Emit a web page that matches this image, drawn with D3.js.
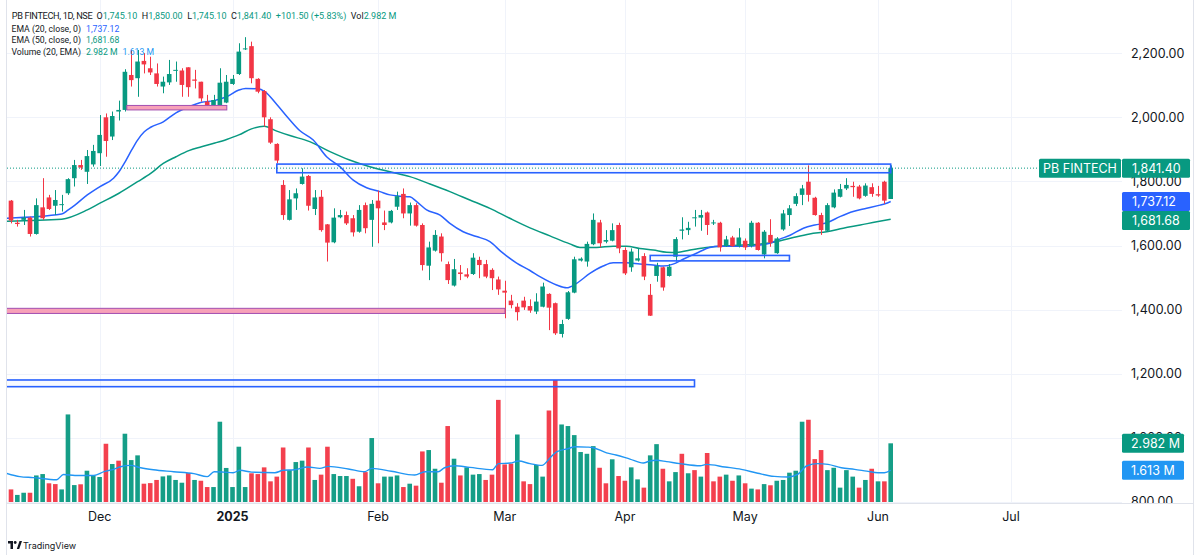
<!DOCTYPE html>
<html><head><meta charset="utf-8">
<script src="https://cdn.jsdelivr.net/npm/d3@7/dist/d3.min.js"></script>
<style>
html,body{margin:0;padding:0;background:#fff;}
svg{display:block;font-family:Inter,"Noto Sans",sans-serif;}
</style></head><body>
<svg id="c" width="1200" height="555"></svg>
<script>
// ---------- DATA ----------
const opens=[1668,1740,1671,1680,1687,1636,1719,1750,1724,1726,1763,1810,1851,1830,1853,1888,2000,1940,2018,2023,2132,2122,2176,2153,2137,2096,2109,2145,2146,2156,2118,2111,2049,2038,2038,2046,2104,2135,2212,2222,2120,2082,1994,1917,1789,1680,1747,1792,1817,1714,1752,1666,1610,1688,1695,1685,1643,1726,1680,1740,1672,1672,1721,1761,1700,1726,1664,1537,1584,1628,1542,1475,1516,1510,1511,1555,1542,1524,1494,1459,1428,1409,1428,1411,1394,1409,1449,1420,1324,1371,1453,1553,1550,1604,1672,1612,1615,1664,1586,1532,1553,1567,1446,1505,1532,1505,1565,1646,1648,1685,1687,1703,1669,1671,1598,1625,1598,1615,1598,1671,1572,1633,1576,1650,1695,1730,1758,1799,1749,1695,1646,1719,1752,1778,1786,1784,1755,1782,1760,1799,1745.1];
const highs=[1712,1742,1680,1711,1690,1747,1810,1758,1773,1758,1810,1867,1867,1898,1914,2007,2012,2018,2052,2150,2210,2210,2200,2189,2168,2127,2179,2174,2153,2156,2148,2111,2070,2070,2153,2132,2132,2231,2250,2236,2122,2085,2000,1919,1804,1773,1778,1841,1820,1773,1773,1667,1716,1711,1706,1695,1726,1734,1742,1771,1709,1711,1768,1778,1734,1732,1669,1612,1648,1638,1550,1558,1539,1529,1576,1565,1555,1529,1503,1490,1446,1420,1440,1432,1451,1484,1451,1422,1368,1458,1565,1563,1612,1700,1680,1648,1669,1671,1594,1591,1591,1576,1480,1546,1534,1542,1626,1688,1674,1711,1711,1706,1680,1674,1630,1630,1654,1622,1677,1673,1648,1682,1626,1711,1726,1763,1789,1850,1752,1702,1732,1775,1792,1810,1799,1789,1794,1794,1786,1802,1850];
const lows=[1660,1669,1659,1664,1628,1634,1680,1711,1695,1706,1758,1784,1836,1792,1846,1848,1877,1929,1990,2018,2096,2064,2137,2132,2096,2075,2101,2111,2064,2064,2090,2049,2023,2033,2033,2044,2101,2132,2210,2106,2075,1971,1917,1856,1680,1678,1711,1790,1709,1695,1643,1550,1607,1685,1664,1628,1640,1638,1596,1607,1648,1669,1711,1685,1662,1659,1522,1492,1581,1550,1480,1472,1492,1498,1508,1498,1498,1461,1446,1373,1404,1366,1399,1390,1386,1407,1336,1321,1313,1368,1451,1550,1534,1601,1594,1607,1613,1576,1508,1518,1550,1492,1380,1487,1459,1503,1550,1619,1633,1659,1646,1633,1664,1581,1596,1596,1594,1586,1594,1584,1560,1596,1574,1646,1661,1723,1726,1737,1693,1633,1643,1716,1750,1773,1752,1744,1752,1752,1752,1730,1745.1];
const closes=[1700,1678,1667,1687,1636,1726,1685,1714,1742,1729,1807,1851,1843,1879,1895,1945,1926,2004,2023,2142,2116,2174,2165,2140,2104,2111,2135,2148,2101,2094,2114,2059,2038,2054,2108,2111,2120,2205,2215,2122,2080,2000,1921,1865,1695,1744,1763,1815,1724,1750,1648,1609,1687,1695,1669,1641,1711,1654,1730,1716,1664,1708,1754,1700,1726,1662,1539,1594,1633,1576,1492,1526,1511,1503,1562,1539,1503,1498,1463,1453,1414,1392,1407,1397,1425,1472,1406,1326,1355,1454,1557,1559,1605,1680,1607,1617,1648,1591,1513,1581,1560,1503,1381,1536,1469,1534,1620,1650,1655,1688,1695,1664,1672,1594,1619,1598,1625,1594,1671,1586,1643,1609,1622,1700,1716,1754,1778,1758,1695,1648,1726,1765,1776,1789,1782,1747,1787,1761,1756,1739.9,1841.4];
const volumes=[2.45,0.64,0.36,0.47,0.47,1.35,1.42,0.95,0.91,0.64,4.45,0.86,0.90,1.59,1.35,1.27,2.96,1.93,2.10,3.47,2.13,2.37,0.93,0.96,1.12,1.30,1.35,1.12,0.98,1.47,1.12,1.08,0.76,0.76,4.08,1.73,0.76,2.81,0.76,1.46,1.42,1.76,1.05,1.29,2.77,1.62,2.03,2.10,2.77,1.12,1.39,2.81,1.42,1.32,1.32,1.18,0.80,1.52,3.25,0.95,1.29,1.29,1.35,0.76,0.93,0.83,2.57,2.64,1.69,0.98,3.86,2.20,1.35,1.76,1.39,1.42,1.12,1.39,5.19,1.91,1.95,3.43,1.05,0.91,1.88,1.29,4.65,6.20,3.94,3.86,3.40,2.54,2.45,2.84,1.74,0.95,2.17,1.32,1.08,1.76,1.15,0.73,2.37,2.94,1.69,1.05,1.52,2.45,1.46,1.62,1.29,2.49,1.05,1.29,1.39,1.08,1.35,0.95,0.68,0.64,0.91,0.85,1.08,1.12,1.49,1.59,4.08,4.18,2.18,2.64,1.62,1.74,0.73,1.62,1.29,0.73,1.12,1.69,1.05,1.05,2.982];
const volUp=[1,0,1,1,0,1,1,0,0,1,1,1,0,1,1,1,0,1,0,1,1,1,0,0,0,1,1,1,1,0,1,0,0,1,1,1,1,1,1,0,0,0,0,0,0,1,1,1,0,1,0,0,1,1,1,0,1,0,1,0,1,1,1,0,1,0,0,1,1,0,0,1,0,1,1,1,0,0,0,0,0,1,0,0,1,1,0,0,1,1,1,1,1,1,0,0,1,0,0,1,1,0,1,1,0,1,1,0,1,0,1,0,0,0,1,0,1,0,1,0,1,0,1,1,1,1,1,0,0,0,1,1,1,1,1,0,1,0,1,0,1];
const ema20Pts=[[0.32,1685],[9,1698],[10.05,1711],[11.1,1726],[13.06,1758],[15.06,1784],[17.2,1810],[18.06,1830],[19.06,1862],[20.07,1898],[21,1929],[22.06,1955],[23.07,1969],[25.06,1986],[27.07,2014],[29.1,2033],[31.1,2047],[33.07,2052],[35.07,2064],[37,2085],[38.07,2090],[40.07,2089],[41.1,2080],[43,2040],[44.8,1998],[46.66,1958],[48.76,1929],[50.87,1877],[52.97,1846],[55.08,1804],[57.19,1780],[59.3,1768],[60.87,1758],[62.45,1754],[64.03,1752],[65.1,1737],[66.67,1711],[68.8,1695],[70.35,1669],[72.45,1643],[74.56,1628],[76.67,1612],[78.5,1580],[80.9,1545],[83,1522],[84.57,1503],[87.2,1477],[88.8,1468],[90.37,1482],[92.47,1513],[94.57,1536],[96.15,1546],[98.26,1546],[100.37,1542],[102.47,1539],[104.05,1536],[105.6,1542],[107.2,1557],[109.3,1576],[111.4,1594],[113,1598],[115.1,1598],[117.2,1598],[119.3,1601],[120.9,1607],[122.5,1620],[124.1,1632],[126.2,1654],[128,1664],[129.9,1671],[131.97,1690],[134.07,1706],[136.2,1716],[138.3,1726],[139.1,1730],[140,1737.12]];
const ema50Pts=[[0.32,1676],[9,1682],[13.06,1711],[15.06,1732],[18.06,1763],[21,1799],[23.07,1825],[25.06,1856],[27.07,1877],[29.1,1896],[31.1,1908],[33.07,1919],[35.07,1931],[37,1945],[39,1964],[41,1972],[43,1957],[45.06,1943],[48.2,1924],[51.4,1893],[54.5,1867],[57.7,1846],[60.87,1830],[64.03,1815],[67.2,1792],[70.35,1768],[73.5,1742],[76.67,1716],[79.8,1685],[83,1655],[86.15,1630],[89.3,1605],[90.9,1594],[93.5,1594],[96.15,1598],[98.26,1598],[100.37,1591],[102.47,1586],[104.6,1579],[106.2,1578],[108.3,1586],[110.9,1594],[113,1598],[115.1,1600],[117.2,1602],[119.5,1605],[121.9,1612],[124.6,1625],[127.2,1636],[129.9,1643],[132.5,1654],[135.2,1664],[137.8,1674],[140,1681.68]];
const volMaPts=[[0.3,1.46],[2.4,1.29],[4.5,1.24],[8.2,1.13],[9.3,1.40],[11.1,1.35],[14.1,1.35],[15.7,1.54],[17.2,1.66],[18.3,1.79],[19.9,1.86],[21.5,1.74],[23.5,1.64],[26.7,1.54],[29.9,1.44],[32,1.29],[33.1,1.54],[34.6,1.52],[36.1,1.49],[37.2,1.61],[39,1.52],[42.7,1.49],[44,1.61],[45.8,1.64],[47.9,1.78],[49.8,1.71],[51.1,1.81],[54.3,1.68],[56.9,1.54],[58,1.71],[61.1,1.56],[64.8,1.37],[66.4,1.54],[68.5,1.54],[69.5,1.74],[71.1,1.84],[73.5,1.76],[77.1,1.64],[78,1.95],[79.9,1.98],[81.2,2.08],[83,1.95],[84.9,1.86],[86.2,2.25],[87.2,2.55],[89.1,2.72],[90.1,2.81],[92,2.79],[93,2.76],[95.1,2.5],[96.6,2.39],[98.8,2.18],[100.9,1.98],[101.9,2.08],[103,2.12],[104.6,2.05],[106.7,1.95],[109.9,1.84],[110.9,1.91],[113.8,1.78],[116.4,1.66],[119,1.46],[121.6,1.3],[123.8,1.27],[125.3,1.4],[126.7,1.83],[128.5,1.95],[130.1,1.91],[132.2,1.74],[134.3,1.66],[136.2,1.57],[138,1.49],[139,1.49],[140,1.613]];
const priceTicks=[2200,2000,1800,1600,1400,1200,1000,800];
const monthLabels=["Dec","2025","Feb","Mar","Apr","May","Jun","Jul"];
const monthIdx=[15,36,59,79,98,117,138,159];
// drawings: [startIdx, endIdx, lowPrice, highPrice]
const pinkZones=[[19.3,35.1,2023,2037],[-3,79.05,1388,1404]];
const blueZones=[[43,140,1827,1854],[102,124,1552,1569],[-3,109,1159.5,1180.4]];
const lastClose=1841.40, ema20Last=1737.12, ema50Last=1681.68, volLast=2.982, volMaLast=1.613;

// ---------- LAYOUT ----------
const svg=d3.select("#c");
const paneL=7,paneR=1122,paneB=503,axisR=1193;
const UP="#089981",DN="#f23645",BLUE="#2962ff",VBLUE="#2196f3",TXT="#131722";
const x=d3.scaleLinear().domain([1,140]).range([11,890.7]);
const y=d3.scaleLinear().domain([800,2200]).range([501.9,53.2]);
const yv=d3.scaleLinear().domain([0,6.2]).range([502,380]);
const bw=4.6;

svg.append("rect").attr("width",1200).attr("height",555).attr("fill","#fff");
const defs=svg.append("defs");
defs.append("clipPath").attr("id","pane").append("rect").attr("x",paneL).attr("y",0).attr("width",paneR-paneL).attr("height",paneB);

// grid
const grid=svg.append("g").attr("clip-path","url(#pane)");
grid.selectAll(".hg").data(priceTicks).join("line")
  .attr("x1",paneL).attr("x2",paneR).attr("y1",d=>Math.round(y(d))+0.5).attr("y2",d=>Math.round(y(d))+0.5)
  .attr("stroke","#f0f3fa").attr("stroke-width",1);
grid.selectAll(".vg").data(monthIdx).join("line")
  .attr("x1",d=>Math.round(x(d))+0.5).attr("x2",d=>Math.round(x(d))+0.5).attr("y1",0).attr("y2",paneB)
  .attr("stroke","#f0f3fa").attr("stroke-width",1);

const pane=svg.append("g").attr("clip-path","url(#pane)");
const idx=d3.range(opens.length);

// volume bars
pane.append("g").selectAll("rect").data(idx).join("rect")
  .attr("x",i=>x(i)-bw/2).attr("width",bw)
  .attr("y",i=>yv(volumes[i])).attr("height",i=>yv(0)-yv(volumes[i]))
  .attr("fill",i=>volUp[i]?UP:DN).attr("opacity",0.95);

// volume MA
pane.append("path").datum(volMaPts)
  .attr("d",d3.line().x(d=>x(d[0])).y(d=>yv(d[1])).curve(d3.curveMonotoneX))
  .attr("fill","none").attr("stroke",VBLUE).attr("stroke-width",1.4);

// price line (dotted)
svg.append("line").attr("x1",paneL).attr("x2",1039).attr("y1",y(lastClose)).attr("y2",y(lastClose))
  .attr("stroke",UP).attr("stroke-width",1).attr("stroke-dasharray","1,2");

// EMAs
pane.append("path").datum(ema50Pts)
  .attr("d",d3.line().x(d=>x(d[0])).y(d=>y(d[1])).curve(d3.curveMonotoneX))
  .attr("fill","none").attr("stroke",UP).attr("stroke-width",1.5);
pane.append("path").datum(ema20Pts)
  .attr("d",d3.line().x(d=>x(d[0])).y(d=>y(d[1])).curve(d3.curveMonotoneX))
  .attr("fill","none").attr("stroke",BLUE).attr("stroke-width",1.5);

// candles
const cg=pane.append("g");
cg.selectAll("line").data(idx).join("line")
  .attr("x1",i=>Math.round(x(i))+0.5).attr("x2",i=>Math.round(x(i))+0.5)
  .attr("y1",i=>y(highs[i])).attr("y2",i=>y(lows[i]))
  .attr("stroke",i=>closes[i]>=opens[i]?UP:DN).attr("stroke-width",1);
cg.selectAll("rect").data(idx).join("rect")
  .attr("x",i=>x(i)-bw/2).attr("width",bw)
  .attr("y",i=>y(Math.max(opens[i],closes[i])))
  .attr("height",i=>Math.max(1,Math.abs(y(opens[i])-y(closes[i]))))
  .attr("fill",i=>closes[i]>=opens[i]?UP:DN);

// drawings
pane.selectAll(".pz").data(pinkZones).join("rect")
  .attr("x",d=>x(d[0])).attr("width",d=>x(d[1])-x(d[0]))
  .attr("y",d=>y(d[3])).attr("height",d=>y(d[2])-y(d[3]))
  .attr("fill","#f7a1b8").attr("stroke","#a24fb0").attr("stroke-width",1);
pane.selectAll(".bz").data(blueZones).join("rect")
  .attr("x",d=>x(d[0])).attr("width",d=>x(d[1])-x(d[0]))
  .attr("y",d=>y(d[3])).attr("height",d=>y(d[2])-y(d[3]))
  .attr("fill","rgba(41,98,255,0.03)").attr("stroke",BLUE).attr("stroke-width",1.6);

// frame lines
svg.append("line").attr("x1",paneL-0.5).attr("x2",paneL-0.5).attr("y1",0).attr("y2",555).attr("stroke","#e0e3eb");
svg.append("line").attr("x1",axisR+0.5).attr("x2",axisR+0.5).attr("y1",0).attr("y2",555).attr("stroke","#e0e3eb");
svg.append("line").attr("x1",paneL).attr("x2",axisR).attr("y1",paneB+0.5).attr("y2",paneB+0.5).attr("stroke","#e0e3eb");

// price axis labels
const ax=svg.append("g");
defs.append("clipPath").attr("id","axis").append("rect").attr("x",paneR).attr("y",0).attr("width",80).attr("height",paneB);
ax.append("g").attr("clip-path","url(#axis)").selectAll("text").data(priceTicks).join("text")
  .attr("x",1131).attr("y",d=>y(d)).attr("dy","0.36em")
  .attr("font-size",12.5).attr("fill",TXT).text(d=>d3.format(",.2f")(d));

// time axis labels
svg.append("g").selectAll("text").data(monthIdx).join("text")
  .attr("x",d=>x(d)).attr("y",521).attr("text-anchor","middle")
  .attr("font-size",12.5).attr("fill",TXT)
  .attr("font-weight",(d,i)=>monthLabels[i]==="2025"?"700":"400")
  .text((d,i)=>monthLabels[i]);

// value labels on axis
function box(x0,w,yc,fill,text,tx,anchor){
  const g=svg.append("g");
  g.append("rect").attr("x",x0).attr("y",yc-9.5).attr("width",w).attr("height",19).attr("rx",1.5).attr("fill",fill);
  g.append("text").attr("x",tx).attr("y",yc).attr("dy","0.36em").attr("font-size",12.5)
    .attr("fill","#fff").attr("text-anchor",anchor||"start").text(text);
}
const fmt=d3.format(",.2f");
const yc1=y(lastClose), yc2=y(ema20Last);
let yc3=y(ema50Last); if(yc3-yc2<19) yc3=yc2+19;
box(1039,82,yc1,UP,"PB FINTECH",1080,"middle");
box(1122,68,yc1,UP,fmt(lastClose),1132);
box(1122,68,yc2,BLUE,fmt(ema20Last),1132);
box(1122,68,yc3,UP,fmt(ema50Last),1132);
box(1122,62,yv(volLast),UP,volLast.toFixed(3)+" M",1131);
box(1122,62,yv(volMaLast),VBLUE,volMaLast.toFixed(3)+" M",1131);

// legend
const lg=svg.append("g").attr("font-size",8.7).attr("fill",TXT).attr("font-family","Roboto,Inter,sans-serif");
lg.append("text").attr("x",11.7).attr("y",19.3).attr("font-size",9.2)
  .attr("textLength",81).attr("lengthAdjust","spacing").text("PB FINTECH, 1D, NSE");
const l1=lg.append("text").attr("x",96.5).attr("y",19.3).attr("font-size",9);
[["O",opens[140]],["H",highs[140]],["L",lows[140]],["C",closes[140]]].forEach(([k,v],j)=>{
  l1.append("tspan").attr("dx",j?4.5:0).text(k);
  l1.append("tspan").attr("fill",UP).text(fmt(v));
});
l1.append("tspan").attr("dx",4.5).attr("fill",UP).text("+101.50 (+5.83%)");
l1.append("tspan").attr("dx",4.5).text("Vol");
l1.append("tspan").attr("fill",UP).text(volLast.toFixed(3)+" M");
const l2=lg.append("text").attr("x",11.5).attr("y",31.6);
l2.append("tspan").text("EMA (20, close, 0)");
l2.append("tspan").attr("dx",5).attr("fill",BLUE).text(fmt(ema20Last));
const l3=lg.append("text").attr("x",11.5).attr("y",43.3);
l3.append("tspan").text("EMA (50, close, 0)");
l3.append("tspan").attr("dx",5).attr("fill",UP).text(fmt(ema50Last));
const l4=lg.append("text").attr("x",11.5).attr("y",55);
l4.append("tspan").text("Volume (20, EMA)");
l4.append("tspan").attr("dx",5).attr("fill",UP).text(volLast.toFixed(3)+" M");
l4.append("tspan").attr("dx",5).attr("fill",VBLUE).text(volMaLast.toFixed(3)+" M");

// TradingView logo
const logo=svg.append("g").attr("transform","translate(8,541)");
logo.append("path").attr("d","M0 0 H5 V8 H2.5 V2.5 H0 Z").attr("fill",TXT);
logo.append("circle").attr("cx",7.2).attr("cy",1.5).attr("r",1.4).attr("fill",TXT);
logo.append("path").attr("d","M8.8 8 L11.5 0 H14 L11.2 8 Z").attr("fill",TXT);
svg.append("text").attr("x",23).attr("y",548.5).attr("font-size",9).attr("fill",TXT).text("TradingView");
</script>
</body></html>
